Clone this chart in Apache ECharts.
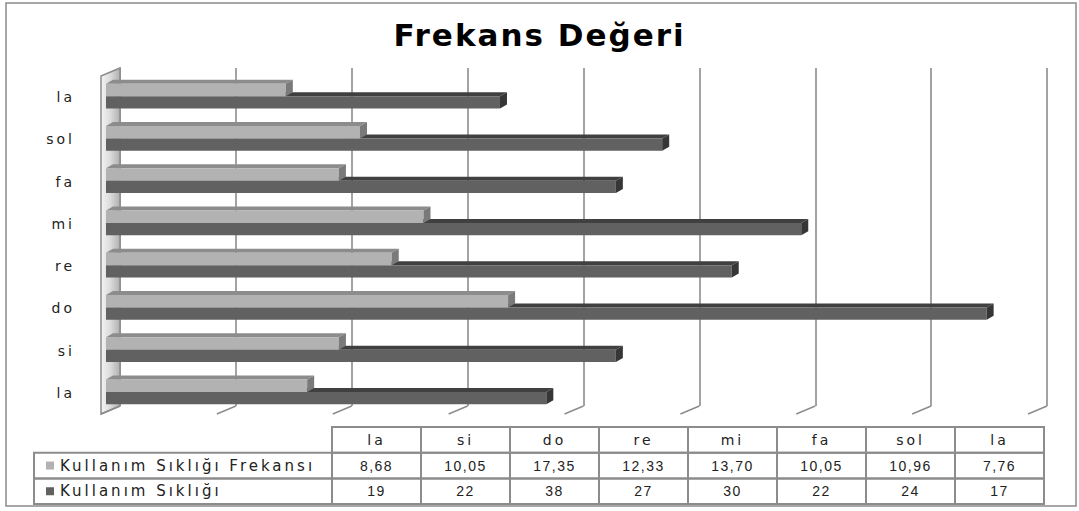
<!DOCTYPE html>
<html>
<head>
<meta charset="utf-8">
<script src="https://cdn.jsdelivr.net/npm/echarts@6/dist/echarts.min.js"></script>
<style>
  html, body { margin: 0; padding: 0; background: #ffffff; }
  #chart { width: 1079px; height: 511px; }
  /* wide, evenly spaced lettering for all labels */
  #chart text { letter-spacing: 3px; }
  #chart text[style*="Liberation"] { letter-spacing: 1.5px; }
  #chart text[style*="bold"] { letter-spacing: 2px; }
</style>
</head>
<body>
<div id="chart"></div>
<script>
// ---- data ----
const categories = ['la', 'si', 'do', 're', 'mi', 'fa', 'sol', 'la'];
const frekans = [8.68, 10.05, 17.35, 12.33, 13.70, 10.05, 10.96, 7.76];
const siklik = [19, 22, 38, 27, 30, 22, 24, 17];
const seriesNames = ['Kullanım Sıklığı Frekansı', 'Kullanım Sıklığı'];
const valueTicks = [0, 5, 10, 15, 20, 25, 30, 35, 40];
const titleText = 'Frekans Değeri';

// ---- layout & style ----
const FRONT = { left: 106, top: 76, width: 927, height: 338 };   // plane of the bar fronts
const BACK = { left: 120, top: 68, width: 927, height: 338 };    // back wall with grid lines
const FLOOR_OFF = [-19, 8];      // back wall -> front edge of floor / side wall
const BAR_DEPTH = [7, -4];       // extrusion of each bar
const BAR_FRAC = 0.29;           // bar thickness as share of a category band
const BAR_SHIFT = -1;
const COLORS = {
  light: { front: '#b2b2b2', top: '#8c8c8c', side: '#7a7a7a' },
  dark: { front: '#616161', top: '#404040', side: '#363636' }
};
const TABLE = { left: 34, colLeft: 332, colW: 89, top: 427, rowH: 25.7 };
const GRID_COLOR = '#a3a3a3';
const TABLE_LINE = '#8c8c8c';
const LABEL_FONT = { fontFamily: 'DejaVu Sans', fontSize: 14, fill: '#222' };
const ROW_FONT = { fontFamily: 'DejaVu Sans', fontSize: 15, fill: '#222' };
const NUMBER_FONT = { fontFamily: 'Liberation Sans', fontSize: 14, fill: '#222' };

const fmt2 = v => v.toFixed(2).replace('.', ',');

// 3D bar: front face, top face and end face, placed above (upper) or below the category centre
function barRenderer(colors, upper) {
  return function (params, api) {
    const v = api.value(0), c = api.value(1);
    const base = api.coord([0, c]);
    const end = api.coord([v, c]);
    const t = api.size([0, 1])[1] * BAR_FRAC;
    const yc = end[1] + BAR_SHIFT;
    const yT = upper ? yc - t : yc;
    const yB = upper ? yc : yc + t;
    const x0 = base[0], x1 = end[0];
    const dx = BAR_DEPTH[0], dy = BAR_DEPTH[1];
    return {
      type: 'group',
      children: [
        { type: 'polygon', shape: { points: [[x0, yT], [x1, yT], [x1 + dx, yT + dy], [x0 + dx, yT + dy]] },
          style: { fill: colors.top } },
        { type: 'rect', shape: { x: x0, y: yT, width: x1 - x0, height: yB - yT },
          style: { fill: colors.front } },
        { type: 'polygon', shape: { points: [[x1, yT], [x1 + dx, yT + dy], [x1 + dx, yB + dy], [x1, yB]] },
          style: { fill: colors.side } }
      ]
    };
  };
}

// side wall at the zero line, from the back wall out to the floor edge
function wallRenderer(params, api) {
  const top = api.coord([0, 1]);
  const bot = api.coord([0, 0]);
  const pts = [top, bot, [bot[0] + FLOOR_OFF[0], bot[1] + FLOOR_OFF[1]], [top[0] + FLOOR_OFF[0], top[1] + FLOOR_OFF[1]]];
  return {
    type: 'polygon',
    shape: { points: pts },
    style: {
      fill: new echarts.graphic.LinearGradient(0, 0, 1, 0, [
        { offset: 0, color: '#f4f4f4' },
        { offset: 0.5, color: '#dadada' },
        { offset: 1, color: '#b0b0b0' }
      ]),
      stroke: '#8c8c8c', lineWidth: 1.5
    }
  };
}

// short floor edges under each grid line
function floorRenderer(params, api) {
  const p = api.coord([api.value(0), 0]);
  return {
    type: 'line',
    shape: { x1: p[0], y1: p[1], x2: p[0] + FLOOR_OFF[0], y2: p[1] + FLOOR_OFF[1] },
    style: { stroke: '#8c8c8c', lineWidth: 1.5 }
  };
}

// ---- data table under the plot ----
function cell(x, y, w, h) {
  return { type: 'rect', shape: { x: x, y: y, width: w, height: h },
           style: { fill: 'none', stroke: TABLE_LINE, lineWidth: 2 }, silent: true };
}
function txt(x, y, s, font, align) {
  return { type: 'text', x: x, y: y, silent: true,
           style: Object.assign({ text: s, align: align || 'center', verticalAlign: 'middle' }, font) };
}
const tableEls = [];
const rowValues = [frekans.map(fmt2), siklik.map(String)];
categories.forEach((c, i) => {
  const x = TABLE.colLeft + i * TABLE.colW;
  tableEls.push(cell(x, TABLE.top, TABLE.colW, TABLE.rowH));
  tableEls.push(txt(x + TABLE.colW / 2, TABLE.top + TABLE.rowH / 2, c, LABEL_FONT));
  rowValues.forEach((vals, r) => {
    const y = TABLE.top + (r + 1) * TABLE.rowH;
    tableEls.push(cell(x, y, TABLE.colW, TABLE.rowH));
    tableEls.push(txt(x + TABLE.colW / 2, y + TABLE.rowH / 2, vals[i], NUMBER_FONT));
  });
});
[COLORS.light.front, COLORS.dark.front].forEach((col, r) => {
  const y = TABLE.top + (r + 1) * TABLE.rowH;
  tableEls.push(cell(TABLE.left, y, TABLE.colLeft - TABLE.left, TABLE.rowH));
  tableEls.push({ type: 'rect', silent: true,
                  shape: { x: TABLE.left + 12, y: y + TABLE.rowH / 2 - 4, width: 8, height: 8 },
                  style: { fill: col } });
  tableEls.push(txt(TABLE.left + 26, y + TABLE.rowH / 2, seriesNames[r], ROW_FONT, 'left'));
});

const chart = echarts.init(document.getElementById('chart'), null, { renderer: 'svg' });

chart.setOption({
  backgroundColor: '#ffffff',
  animation: false,
  title: {
    text: titleText,
    left: 'center',
    top: 14,
    padding: [5, 5, 5, 17],
    textStyle: { fontFamily: 'DejaVu Sans', fontWeight: 'bold', fontSize: 31, color: '#000' }
  },
  grid: [
    Object.assign({ containLabel: false }, FRONT),
    Object.assign({ containLabel: false }, BACK)
  ],
  xAxis: [
    { type: 'value', gridIndex: 0, min: 0, max: 40, interval: 5, show: false },
    { type: 'value', gridIndex: 1, min: 0, max: 40, interval: 5,
      axisLine: { show: false }, axisTick: { show: false }, axisLabel: { show: false },
      splitLine: { show: true, lineStyle: { color: GRID_COLOR, width: 2 } } }
  ],
  yAxis: [
    { type: 'category', gridIndex: 0, data: categories,
      axisLine: { show: false }, axisTick: { show: false }, splitLine: { show: false },
      axisLabel: { margin: 31, color: '#222', fontFamily: 'DejaVu Sans', fontSize: 14 } },
    { type: 'value', gridIndex: 1, min: 0, max: 1, show: false }
  ],
  graphic: [
    { type: 'rect', shape: { x: 6, y: 3, width: 1070, height: 503 }, silent: true,
      style: { fill: 'none', stroke: '#8a8a8a', lineWidth: 1.5 } },
    { type: 'group', children: tableEls }
  ],
  series: [
    { type: 'custom', name: 'wall', xAxisIndex: 1, yAxisIndex: 1, silent: true, z: 1,
      data: [[0, 0]], renderItem: wallRenderer },
    { type: 'custom', name: 'floor', xAxisIndex: 1, yAxisIndex: 1, silent: true, z: 1,
      data: valueTicks.map(v => [v, 0]), renderItem: floorRenderer },
    { type: 'custom', name: seriesNames[1], xAxisIndex: 0, yAxisIndex: 0, z: 3,
      data: siklik.map((v, i) => [v, i]), renderItem: barRenderer(COLORS.dark, false) },
    { type: 'custom', name: seriesNames[0], xAxisIndex: 0, yAxisIndex: 0, z: 4,
      data: frekans.map((v, i) => [v, i]), renderItem: barRenderer(COLORS.light, true) }
  ]
});
</script>
</body>
</html>
